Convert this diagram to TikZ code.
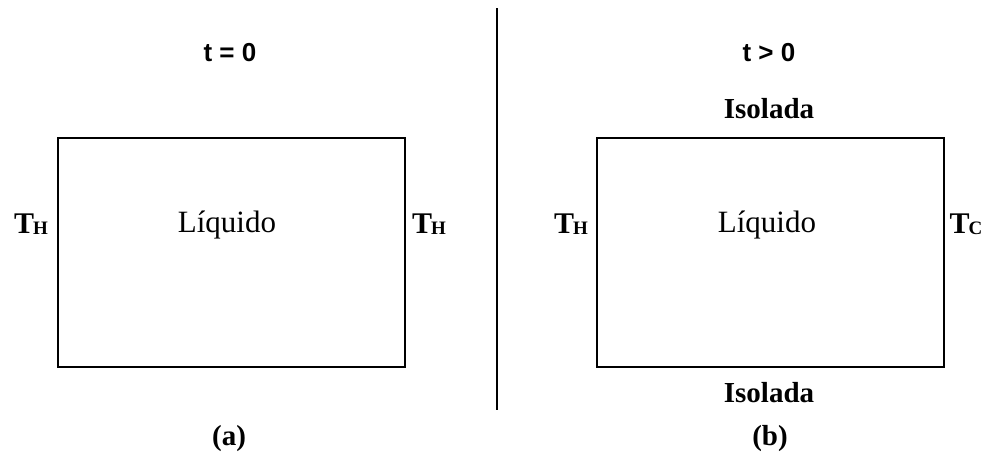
\documentclass[tikz,border=0pt]{standalone}
\usepackage{fontspec}
\setmainfont{Liberation Serif}
\setsansfont{Liberation Sans}
\begin{document}
\begin{tikzpicture}[x=1pt,y=-1pt,
  tank/.style={draw=black,line width=1.8pt,minimum width=347pt,minimum height=229pt,inner sep=0pt,anchor=north west},
  liq/.style={anchor=base,inner sep=0pt,font=\fontsize{31}{31}\selectfont},
  temp/.style={anchor=base,inner sep=0pt,font=\fontsize{30}{30}\selectfont\bfseries},
  iso/.style={anchor=base,inner sep=0pt,font=\fontsize{29}{29}\selectfont\bfseries},
  tlab/.style={anchor=base,inner sep=0pt,font=\fontsize{26}{26}\selectfont\sffamily\bfseries},
  captxt/.style={anchor=base,inner sep=0pt,font=\fontsize{29}{29}\selectfont\bfseries}]
\useasboundingbox (0,0) rectangle (990,455);
\newcommand{\subtxt}[2]{#1\kern-1pt\raisebox{-1.5pt}{\fontsize{19}{19}\selectfont\bfseries #2}}
% boxes
\node[tank] (boxa) at (57,137) {};
\node[tank] (boxb) at (596,137) {};
\draw[line width=1.2pt] (boxa.south west) -- (boxa.south east);
\draw[line width=1.2pt] (boxb.south west) -- (boxb.south east);
% divider
\coordinate (dtop) at (497,8);
\coordinate (dbot) at (497,410);
\draw[line width=1.8pt] (dtop) -- (dbot);
% headings
\node[tlab] (t0) at (230,61) {t = 0};
\node[tlab] (tg) at (769,61) {t > 0};
% insulation labels
\node[iso] (isotop) at (769,118) {Isolada};
\node[iso] (isobot) at (769,402) {Isolada};
% liquid labels
\node[liq] (liqa) at (227,232) {Líquido};
\node[liq] (liqb) at (767,232) {Líquido};
% temperatures
\node[temp] (tha) at (31,233) {\subtxt{T}{H}};
\node[temp] (thb) at (429,233) {\subtxt{T}{H}};
\node[temp] (thc) at (571,233) {\subtxt{T}{H}};
\node[temp] (tcc) at (966,233) {\subtxt{T}{C}};
% captions
\node[captxt] (capa) at (229,445) {(a)};
\node[captxt] (capb) at (770,445) {(b)};
\end{tikzpicture}
\end{document}
